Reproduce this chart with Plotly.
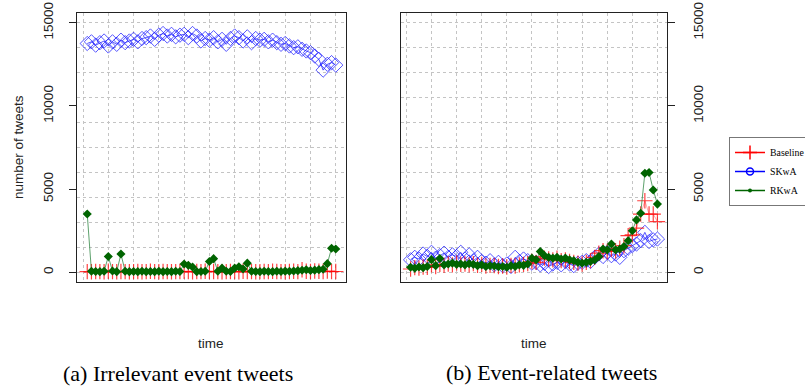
import plotly.graph_objects as go

W, H = 805, 389

# ---------------- data ----------------
time_idx = list(range(1, 61))

# (a) Irrelevant event tweets
irr_baseline = [40, 30, 50, 40, 30, 60, 40, 30, 50, 40, 30, 40, 50, 30, 40, 60, 40, 30, 50, 40,
                30, 40, 50, 60, 40, 30, 50, 40, 60, 40, 50, 40, 30, 40, 50, 40, 30, 60, 50, 40,
                30, 40, 50, 40, 60, 50, 40, 30, 50, 60, 40, 150, 60, 50, 80, 60, 50, 70, 40, 50]
irr_skwa = [13750, 13850, 13650, 13800, 13900, 13600, 13850, 13700, 13950, 13800, 13900, 14000, 13850, 14050,
            14100, 14200, 14000, 14250, 14350, 14200, 14300, 14150,
            14250, 14300, 14100, 14350, 14200, 13900, 14050, 13950,
            14100, 13850, 14000, 13700, 14050, 14200, 14100, 13900, 14150, 13800, 14050, 13950,
            14000, 13850, 13950, 13800, 13700, 13750, 13600, 13500, 13550, 13400, 13300, 13200,
            13000, 12800, 12150, 12500, 12600, 12450]
irr_rkwa = [3500, 60, 50, 40, 60, 950, 80, 40, 1100, 60, 40, 50, 40, 60, 40, 50, 40, 60, 40, 50,
            40, 60, 50, 500, 420, 320, 40, 50, 60, 650, 820, 60, 250, 60, 50, 250, 330, 200, 550, 60,
            50, 40, 60, 50, 40, 60, 50, 70, 60, 80, 100, 120, 150, 110, 130, 160, 180, 520, 1450, 1400]

# (b) Event-related tweets
rel_baseline = [200, 280, 250, 320, 300, 450, 350, 480, 420, 500, 450, 550, 480, 500, 450, 520, 420, 480, 380, 420,
                400, 350, 380, 320, 420, 380, 450, 480, 520, 650, 600, 950, 850, 800, 750, 850, 700, 750, 650, 600,
                550, 500, 600, 700, 900, 1150, 1300, 1250, 1400, 1300, 1450, 1600, 2200, 2250, 2650, 3500, 4300, 3500,
                3500, 3050]
rel_skwa = [750, 900, 800, 1100, 950, 1200, 850, 1000, 1150, 900, 1050, 950,
            1200, 800, 1050, 700, 900,
            650, 550, 700, 450, 600, 400, 500, 350,
            900, 650, 800, 700, 550,
            600, 450, 550, 350, 500, 600, 450, 650, 500, 400, 550,
            600, 700, 650,
            900, 1100, 950, 1200, 1000, 1100, 900,
            1300, 1450, 1600, 1700, 1900,
            2400, 1850, 1950, 2000]
rel_rkwa = [300, 250, 320, 280, 350, 760, 400, 830, 450, 500, 550, 480, 500, 450, 520, 480,
            400, 450, 350, 400, 380, 330, 350, 300, 400, 350, 450, 420, 500, 850, 750,
            1250, 1000, 900, 850, 900, 800, 850, 750, 700, 600, 550, 600, 650, 750,
            950, 1400, 1350, 1700, 1350, 1400, 1550, 1900, 2500, 3150, 3550, 5950, 6000, 4950, 4100]

series_names = ["Baseline", "SKwA", "RKwA"]
y_tickvals = [0, 5000, 10000, 15000]
y_ticktext = ["0", "5000", "10000", "15000"]

# ---------------- styles ----------------
RED = "rgba(255,0,0,0.75)"
BLUE = "rgba(30,30,255,0.75)"
GREEN = "#006400"
GRID = "#c4c4c4"
SANS = "Liberation Sans, Arial, sans-serif"
SERIF = "Liberation Serif, Times New Roman, serif"


def px_x(p):
    return p / W


def px_y(p):
    return 1 - p / H


fig = go.Figure()


def add_panel(xa, ya, base, skwa, rkwa):
    fig.add_trace(go.Scatter(x=time_idx, y=skwa, mode="lines+markers", showlegend=False,
                             line=dict(color=BLUE, width=1),
                             marker=dict(symbol="diamond-open", size=11, color=BLUE,
                                         line=dict(width=1, color=BLUE)),
                             xaxis=xa, yaxis=ya, name="SKwA"))
    fig.add_trace(go.Scatter(x=time_idx, y=base, mode="lines+markers", showlegend=False,
                             line=dict(color="rgba(255,110,110,0.6)", width=1),
                             marker=dict(symbol="cross-thin", size=11, color=RED,
                                         line=dict(width=1.2, color=RED)),
                             xaxis=xa, yaxis=ya, name="Baseline"))
    fig.add_trace(go.Scatter(x=time_idx, y=rkwa, mode="lines+markers", showlegend=False,
                             line=dict(color="rgba(40,130,60,0.75)", width=1),
                             marker=dict(symbol="diamond", size=7, color=GREEN),
                             xaxis=xa, yaxis=ya, name="RKwA"))


add_panel("x", "y", irr_baseline, irr_skwa, irr_rkwa)
add_panel("x2", "y2", rel_baseline, rel_skwa, rel_rkwa)

# legend-only entries (R legend style)
fig.add_trace(go.Scatter(x=[None], y=[None], mode="lines+markers", name=series_names[0],
                         line=dict(color="red", width=1.5),
                         marker=dict(symbol="cross-thin", size=10, line=dict(width=1.5, color="red"))))
fig.add_trace(go.Scatter(x=[None], y=[None], mode="lines+markers", name=series_names[1],
                         line=dict(color="blue", width=1.5),
                         marker=dict(symbol="circle-open", size=7, line=dict(width=1.5, color="blue"))))
fig.add_trace(go.Scatter(x=[None], y=[None], mode="lines+markers", name=series_names[2],
                         line=dict(color=GREEN, width=1.5),
                         marker=dict(symbol="circle", size=4, color=GREEN)))

xr = [1 - 0.04 * 59, 60 + 0.04 * 59]
yr = [-600, 15600]
ydom = [px_y(282.3), px_y(12.7)]

xcommon = dict(range=xr, showgrid=True, gridcolor=GRID, griddash="dot", gridwidth=1,
               tick0=0, dtick=6, showticklabels=False, ticks="", zeroline=False, automargin=False,
               showline=True, linecolor="#222", linewidth=1, mirror=True)
ycommon = dict(range=yr, tickvals=y_tickvals, ticktext=y_ticktext, ticks="outside", ticklen=7,
               tickcolor="#222", tickangle=-90, ticklabelstandoff=11, ticklabeloverflow="allow",
               tickfont=dict(family=SANS, size=13.5, color="#222"), automargin=False,
               showgrid=False, zeroline=False, showline=True, linecolor="#222",
               linewidth=1, mirror=True)
ygrid = dict(range=yr, dtick=1500, tick0=0, showgrid=True, gridcolor=GRID, griddash="dot",
             gridwidth=1, showticklabels=False, ticks="", zeroline=False, showline=False,
             automargin=False)

fig.update_layout(
    width=W, height=H,
    margin=dict(l=0, r=0, t=0, b=0, autoexpand=False),
    paper_bgcolor="white", plot_bgcolor="white",
    xaxis=dict(domain=[px_x(77.3), px_x(345.7)], anchor="y", **xcommon),
    yaxis=dict(domain=ydom, anchor="x", side="left", **ycommon),
    xaxis2=dict(domain=[px_x(400.7), px_x(667.3)], anchor="y2", **xcommon),
    yaxis2=dict(domain=ydom, anchor="x2", side="right", **ycommon),
    yaxis3=dict(overlaying="y", anchor="x", **ygrid),
    yaxis4=dict(overlaying="y2", anchor="x2", side="right", **ygrid),
    legend=dict(xref="container", yref="container",
                x=px_x(729), y=px_y(137), xanchor="left", yanchor="top",
                bordercolor="#777", borderwidth=1, bgcolor="white",
                font=dict(family=SERIF, size=9.8, color="black"),
                tracegroupgap=0, itemwidth=30),
    showlegend=True,
)

# grid-only dummy traces to activate overlay axes
fig.add_trace(go.Scatter(x=[None], y=[None], xaxis="x", yaxis="y3", showlegend=False, hoverinfo="skip"))
fig.add_trace(go.Scatter(x=[None], y=[None], xaxis="x2", yaxis="y4", showlegend=False, hoverinfo="skip"))

annots = [
    dict(text="number of tweets", x=px_x(18), y=px_y(147), textangle=-90,
         font=dict(family=SANS, size=13.5, color="#222")),
    dict(text="time", x=px_x(211), y=px_y(343), font=dict(family=SANS, size=13.5, color="#222")),
    dict(text="time", x=px_x(534), y=px_y(343), font=dict(family=SANS, size=13.5, color="#222")),
    dict(text="(a) Irrelevant event tweets", x=px_x(178), y=px_y(373),
         font=dict(family=SERIF, size=22, color="black")),
    dict(text="(b) Event-related tweets", x=px_x(551), y=px_y(372),
         font=dict(family=SERIF, size=22, color="black")),
]
for a in annots:
    fig.add_annotation(xref="paper", yref="paper", showarrow=False,
                       xanchor="center", yanchor="middle", **a)

# remove the browser's default 8px body margin so the figure fills the window
fig.write_html("out.html", config={"displayModeBar": False},
               post_script="document.body.style.margin='0';")
